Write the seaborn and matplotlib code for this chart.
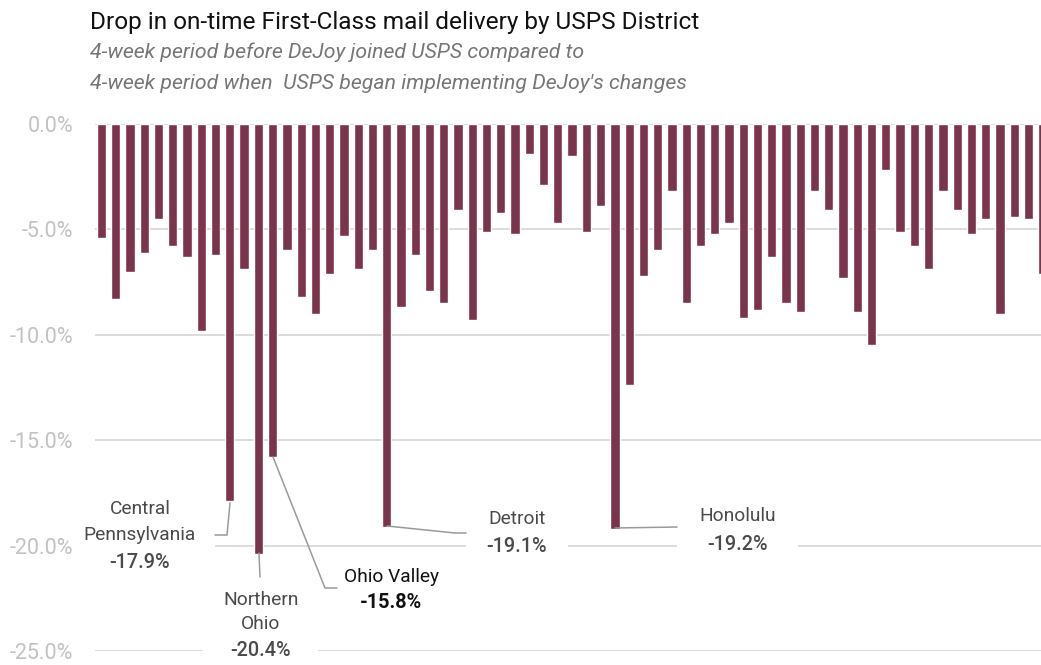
import numpy as np
import pandas as pd
import matplotlib
matplotlib.use('Agg')
import matplotlib.pyplot as plt
import matplotlib.patches as mpatches
from matplotlib import font_manager
import seaborn as sns

# on-time delivery change per USPS district (percentage points)
drop = [-5.4, -8.3, -7.0, -6.1, -4.5, -5.8, -6.3, -9.8, -6.2, -17.9,
        -6.9, -20.4, -15.8, -6.0, -8.2, -9.0, -7.1, -5.3, -6.9, -6.0,
        -19.1, -8.7, -6.2, -7.9, -8.5, -4.1, -9.3, -5.1, -4.2, -5.2,
        -1.4, -2.9, -4.7, -1.5, -5.1, -3.9, -19.2, -12.4, -7.2, -6.0,
        -3.2, -8.5, -5.8, -5.2, -4.7, -9.2, -8.8, -6.3, -8.5, -8.9,
        -3.2, -4.1, -7.3, -8.9, -10.5, -2.2, -5.1, -5.8, -6.9, -3.2,
        -4.1, -5.2, -4.5, -9.0, -4.4, -4.5, -7.1]
district_idx = list(range(len(drop)))

# called-out districts: (name lines, bar index, value label)
callouts = [
    (['Central', 'Pennsylvania'], 9, '-17.9%'),
    (['Northern', 'Ohio'], 11, '-20.4%'),
    (['Ohio Valley'], 12, '-15.8%'),
    (['Detroit'], 20, '-19.1%'),
    (['Honolulu'], 36, '-19.2%'),
]
yticks = [0, -5, -10, -15, -20, -25]

sns.set_theme(style='white')
avail = {f.name for f in font_manager.fontManager.ttflist}
fam = 'DejaVu Sans'
for cand in ['Roboto', 'Noto Sans']:
    if cand in avail:
        fam = cand
        break
plt.rcParams['font.family'] = [fam, 'DejaVu Sans']

W, H = 1041, 665
fig = plt.figure(figsize=(W / 100, H / 100), dpi=100)
ax = fig.add_axes([95 / W, (H - 651) / H, (W - 95) / W, (651 - 124) / H])

df = pd.DataFrame({'district': district_idx, 'drop': drop})
sns.barplot(data=df, x='district', y='drop', color='#7a344d', saturation=1,
            width=0.65, ax=ax, zorder=2)

ax.set_xlim(-0.456, 65.88)
ax.set_ylim(-25, 0)
ax.set_yticks(yticks)
ax.yaxis.set_major_formatter(plt.FuncFormatter(lambda v, p: f'{v:.1f}%'))
ax.tick_params(axis='y', length=0, pad=15.5, labelsize=15.5, labelcolor='#c2c2c2')
ax.set_xticks([])
ax.set_xlabel('')
ax.set_ylabel('')
ax.grid(axis='y', color='#d9d9d9', linewidth=1.3)
ax.set_axisbelow(True)
for s in ax.spines.values():
    s.set_visible(False)

inv = ax.transData.inverted()


def P(x, y):
    # reference pixel (from top-left) -> data coords
    return inv.transform((x, H - y))


def pline(pts):
    d = np.array([P(x, y) for x, y in pts])
    ax.plot(d[:, 0], d[:, 1], color='#9a9a9a', lw=1.1, zorder=3, clip_on=False)


def wbox(x0, x1, y0, y1):
    a, b = P(x0, y1), P(x1, y0)
    ax.add_patch(mpatches.Rectangle(a, b[0] - a[0], b[1] - a[1], facecolor='white',
                                    edgecolor='none', zorder=1.5, clip_on=False))


# gaps in the gridlines behind the labels
wbox(95, 215, 538, 553)
wbox(203, 318, 640, 662)
wbox(466, 568, 538, 553)
wbox(677, 798, 538, 553)

# connectors from bar tips to labels
pline([(230, 503), (227, 535), (215, 535)])
pline([(259, 553), (260, 577)])
pline([(273, 457), (325, 588), (337, 588)])
pline([(387, 526), (455, 533), (466, 533)])
pline([(615, 528), (677, 527)])

label_pos = {9: (140, [509, 535], 562), 11: (261, [600, 624], 650),
             12: (391, [577], 603), 20: (517, [519], 547), 36: (738, [516], 544)}
for names, idx, pct in callouts:
    cx, ys, py = label_pos[idx]
    col = '#111111' if idx == 12 else '#4a4a4a'
    for nm, yy in zip(names, ys):
        x, y = P(cx, yy)
        ax.text(x, y, nm, ha='center', va='center', fontsize=13.8, color=col,
                zorder=4, clip_on=False)
    x, y = P(cx, py)
    ax.text(x, y, pct, ha='center', va='center', fontsize=14.3, color=col,
            fontweight='bold' if idx == 12 else 'medium', zorder=4, clip_on=False)

fig.text(90 / W, 1 - 29 / H, 'Drop in on-time First-Class mail delivery by USPS District',
         fontsize=17.6, color='#111111', va='baseline', ha='left')
fig.text(90 / W, 1 - 58 / H, '4-week period before DeJoy joined USPS compared to',
         fontsize=15.3, color='#767676', style='italic', va='baseline', ha='left')
fig.text(90 / W, 1 - 89 / H, "4-week period when  USPS began implementing DeJoy's changes",
         fontsize=15.3, color='#767676', style='italic', va='baseline', ha='left')

fig.savefig('out.png', dpi=100)
